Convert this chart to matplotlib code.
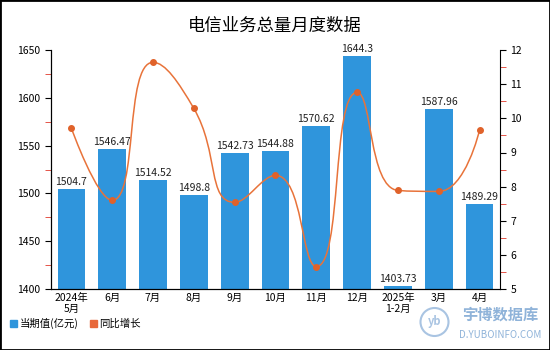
import numpy as np
import matplotlib
matplotlib.use("Agg")
import matplotlib.pyplot as plt
from matplotlib.ticker import MultipleLocator
from matplotlib.patches import Rectangle, Ellipse, PathPatch
from matplotlib.path import Path

plt.rcParams['font.family'] = ['Noto Sans CJK SC', 'DejaVu Sans']

# ─── données ────────────────────────────────────────────────
mois = ["2024年\n5月", "6月", "7月", "8月", "9月", "10月", "11月", "12月",
        "2025年\n1-2月", "3月", "4月"]
valeurs = [1504.7, 1546.47, 1514.52, 1498.8, 1542.73, 1544.88, 1570.62,
           1644.3, 1403.73, 1587.96, 1489.29]
croissance = [9.71, 7.60, 11.64, 10.29, 7.54, 8.33, 5.66, 10.76, 7.89, 7.86, 9.65]

BLEU = "#2f95dc"
ORANGE = "#e8733a"


def chemin_lisse(x, y, sx, sy, smooth=0.5):
    # courbe de Bézier façon "smooth" (points de contrôle bornés),
    # calculée en pixels (échelles sx, sy) puis ramenée en données
    px = np.asarray(x, float) * sx
    py = np.asarray(y, float) * sy
    n = len(px)
    verts = [(px[0], py[0])]
    codes = [Path.MOVETO]
    cp_prev = (px[0], py[0])
    for i in range(1, n):
        xi, yi = px[i], py[i]
        if i == n - 1:
            verts += [cp_prev, (xi, yi), (xi, yi)]
            codes += [Path.CURVE4] * 3
            break
        x0, y0 = px[i - 1], py[i - 1]
        x1, y1 = px[i + 1], py[i + 1]
        vx, vy = x1 - x0, y1 - y0
        l0 = np.hypot(xi - x0, yi - y0)
        l1 = np.hypot(x1 - xi, y1 - yi)
        r = l1 / (l0 + l1)
        ncx = xi + vx * smooth * r
        ncy = yi + vy * smooth * r
        ncx = min(ncx, max(x1, xi)); ncx = max(ncx, min(x1, xi))
        ncy = min(ncy, max(y1, yi)); ncy = max(ncy, min(y1, yi))
        vx, vy = ncx - xi, ncy - yi
        cx = xi - vx * l0 / l1
        cy = yi - vy * l0 / l1
        cx = min(cx, max(x0, xi)); cx = max(cx, min(x0, xi))
        cy = min(cy, max(y0, yi)); cy = max(cy, min(y0, yi))
        vx, vy = xi - cx, yi - cy
        ncx = xi + vx * l1 / l0
        ncy = yi + vy * l1 / l0
        verts += [cp_prev, (cx, cy), (xi, yi)]
        codes += [Path.CURVE4] * 3
        cp_prev = (ncx, ncy)
    verts = [(a / sx, b / sy) for a, b in verts]
    return Path(verts, codes)


fig = plt.figure(figsize=(5.5, 3.5), dpi=100)
fig.patches.append(Rectangle((0, 0), 1, 1, transform=fig.transFigure,
                             fill=False, edgecolor="black", linewidth=2))
ax = fig.add_axes([0.0927, 0.174, 0.8163, 0.683])
ax2 = ax.twinx()

x = np.arange(len(mois))
ax.bar(x, valeurs, width=0.68, color=BLEU, zorder=2)
for xi, v in zip(x, valeurs):
    ax.text(xi, v + 2, f"{v:g}", ha="center", va="bottom", fontsize=7.5,
            color="#222222")

ax.set_ylim(1400, 1650)
ax.set_xlim(-0.5, len(mois) - 0.5)
ax.yaxis.set_major_locator(MultipleLocator(50))
ax.yaxis.set_minor_locator(MultipleLocator(25))
ax.set_xticks(x)
ax.set_xticklabels(mois, fontsize=7.5, linespacing=1.1)
ax.tick_params(axis="x", length=0, pad=3)
ax.tick_params(axis="y", which="major", labelsize=7.5, length=4)
ax.tick_params(axis="y", which="minor", length=4, color="#e0392b")

# courbe lissée du taux de croissance
sx = 449 / len(mois)
sy = 239 / 7
ax2.add_patch(PathPatch(chemin_lisse(x, croissance, sx, sy), fill=False,
                        edgecolor=ORANGE, linewidth=1.1, zorder=3))
ax2.scatter(x, croissance, s=16, color="#e0622a", zorder=4)
ax2.set_ylim(5, 12)
ax2.yaxis.set_major_locator(MultipleLocator(1))
ax2.yaxis.set_minor_locator(MultipleLocator(0.5))
ax2.tick_params(axis="y", which="major", labelsize=7.5, length=4)
ax2.tick_params(axis="y", which="minor", length=4, color="#e0392b")

for a in (ax, ax2):
    a.spines["top"].set_visible(False)
ax.spines["right"].set_visible(False)

fig.text(0.5, 0.925, "电信业务总量月度数据", ha="center", va="center",
         fontsize=12.5)

# légende
fig.patches.append(Rectangle((0.018, 0.066), 0.013, 0.02,
                             transform=fig.transFigure, color=BLEU))
fig.text(0.036, 0.076, "当期值(亿元)", fontsize=7.5, va="center")
fig.patches.append(Rectangle((0.163, 0.066), 0.013, 0.02,
                             transform=fig.transFigure, color="#e8683a"))
fig.text(0.181, 0.076, "同比增长", fontsize=7.5, va="center")

# filigrane
fig.text(0.91, 0.1, "宇博数据库", fontsize=11, color="#8fb3d9",
         ha="center", va="center", fontweight="bold")
fig.text(0.91, 0.043, "D.YUBOINFO.COM", fontsize=7, color="#8fb3d9",
         ha="center", va="center")
fig.patches.append(Ellipse((0.79, 0.08), 28 / 550, 28 / 350,
                           transform=fig.transFigure, fill=False,
                           edgecolor="#a9c4e2", linewidth=1.5))
fig.text(0.79, 0.08, "yb", fontsize=8, color="#a9c4e2", ha="center",
         va="center", style="italic", fontweight="bold")

fig.savefig("out.png", dpi=100)
